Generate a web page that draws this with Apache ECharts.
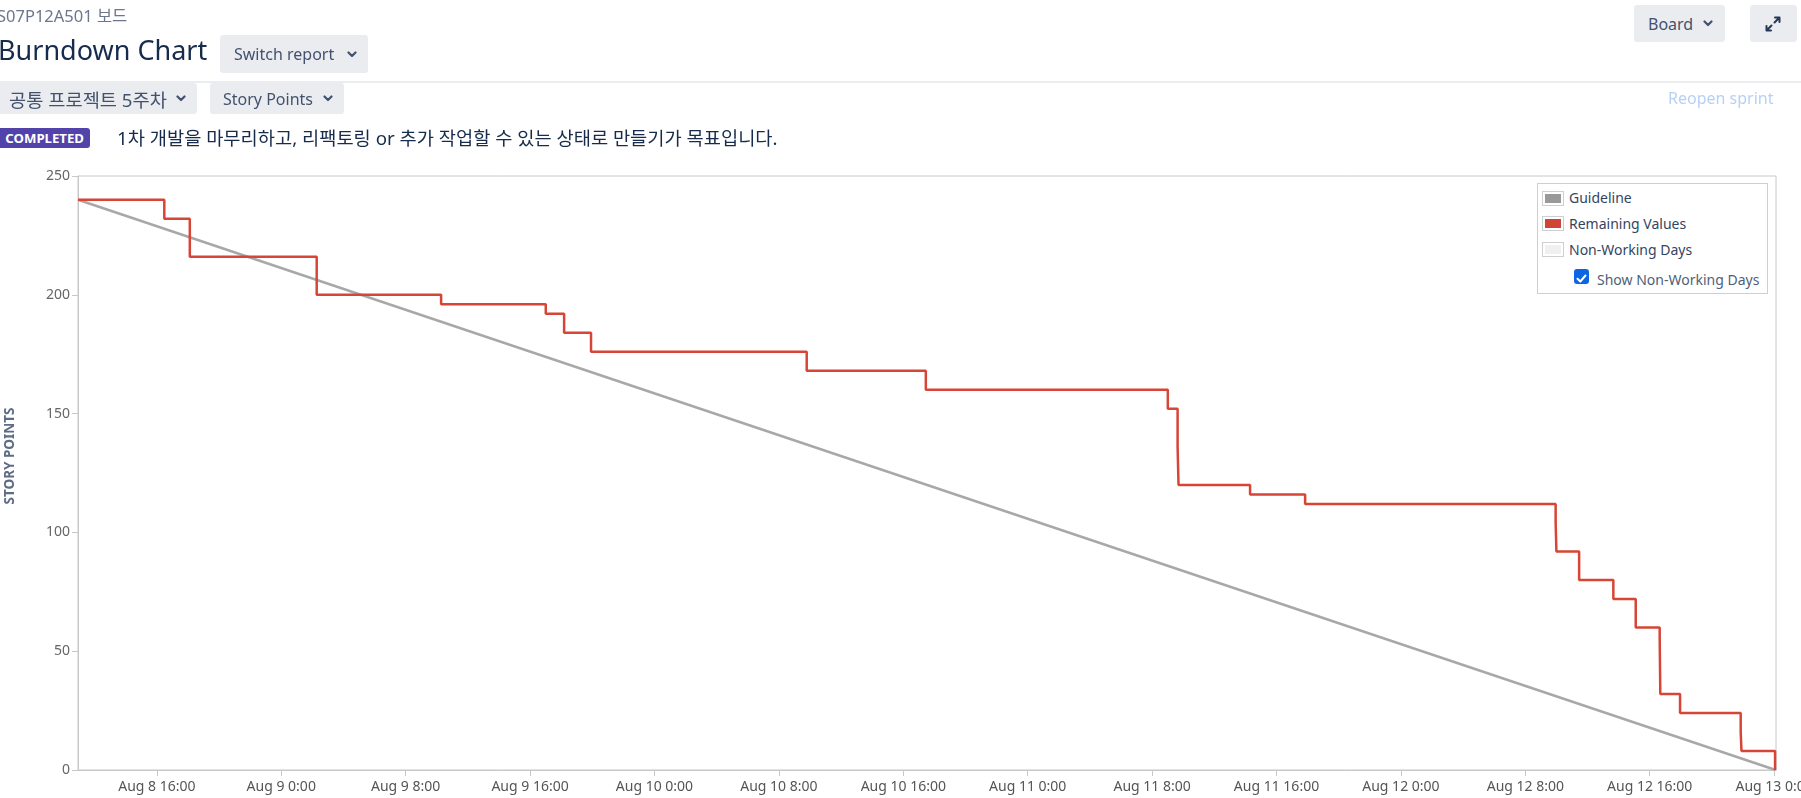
<!DOCTYPE html>
<html>
<head>
<meta charset="utf-8">
<script src="https://cdn.jsdelivr.net/npm/echarts@6/dist/echarts.min.js"></script>
<style>
  html, body { margin:0; padding:0; background:#fff; }
  body { width:1801px; height:798px; overflow:hidden; position:relative; font-family:"Noto Sans","Noto Sans CJK KR",sans-serif; }
  #chart { position:absolute; left:0; top:0; width:1801px; height:798px; }
  .abs { position:absolute; white-space:nowrap; }
  .btn { position:absolute; background:#ebecf0; border-radius:3px; color:#42526e; font-size:16px; display:flex; align-items:center; box-sizing:border-box; }
  .chev { position:absolute; }
  .legend { position:absolute; left:1537px; top:183px; width:231px; height:111px; border:1px solid #cfcfcf; background:#fff; box-sizing:border-box; }
  .sw { position:absolute; width:22px; height:15px; border:1px solid #cfcfcf; box-sizing:border-box; padding:2px; }
  .sw div { width:100%; height:100%; }
  .lt { position:absolute; font-size:14px; color:#344563; line-height:20px; }
</style>
</head>
<body>
<div id="chart"></div>

<div class="abs" style="left:-3px;top:6px;font-size:16.5px;line-height:20px;color:#6b778c;">S07P12A501 보드</div>
<div class="abs" style="left:-2px;top:32px;font-size:27px;line-height:36px;color:#172b4d;">Burndown Chart</div>

<div class="btn" style="left:220px;top:35px;width:148px;height:38px;">
  <span class="abs" style="left:14px;">Switch report</span>
  <svg class="chev" style="left:127px;top:16px" width="10" height="7" viewBox="0 0 10 7"><path d="M1.5 1.5 L5 5 L8.5 1.5" stroke="#42526e" stroke-width="2.2" fill="none" stroke-linecap="round" stroke-linejoin="round"/></svg>
</div>

<div class="btn" style="left:1634px;top:5px;width:91px;height:37px;">
  <span class="abs" style="left:14px;">Board</span>
  <svg class="chev" style="left:69px;top:15px" width="10" height="7" viewBox="0 0 10 7"><path d="M1.5 1.5 L5 5 L8.5 1.5" stroke="#42526e" stroke-width="2.2" fill="none" stroke-linecap="round" stroke-linejoin="round"/></svg>
</div>
<div class="btn" style="left:1750px;top:5px;width:47px;height:37px;">
  <svg class="abs" style="left:14px;top:10px" width="18" height="18" viewBox="0 0 18 18">
    <path d="M10.5 7.5 L15.5 2.5 M11 2.5 L15.5 2.5 L15.5 7" stroke="#253858" stroke-width="2" fill="none" stroke-linecap="round" stroke-linejoin="round"/>
    <path d="M7.5 10.5 L2.5 15.5 M2.5 11 L2.5 15.5 L7 15.5" stroke="#253858" stroke-width="2" fill="none" stroke-linecap="round" stroke-linejoin="round"/>
  </svg>
</div>

<div class="abs" style="left:0;top:81px;width:1801px;height:2px;background:#ebecf0;"></div>

<div class="btn" style="left:-4px;top:83px;width:201px;height:31px;font-size:18.7px;">
  <span class="abs" style="left:13px;">공통 프로젝트 5주차</span>
  <svg class="chev" style="left:180px;top:12px" width="10" height="7" viewBox="0 0 10 7"><path d="M1.5 1.5 L5 5 L8.5 1.5" stroke="#42526e" stroke-width="2.2" fill="none" stroke-linecap="round" stroke-linejoin="round"/></svg>
</div>
<div class="btn" style="left:210px;top:83px;width:134px;height:31px;">
  <span class="abs" style="left:13px;">Story Points</span>
  <svg class="chev" style="left:113px;top:12px" width="10" height="7" viewBox="0 0 10 7"><path d="M1.5 1.5 L5 5 L8.5 1.5" stroke="#42526e" stroke-width="2.2" fill="none" stroke-linecap="round" stroke-linejoin="round"/></svg>
</div>

<div class="abs" style="left:1668px;top:87px;font-size:16px;line-height:22px;color:#b8d0f5;">Reopen sprint</div>

<div class="abs" style="left:-4px;top:128px;width:94px;height:20px;background:#5243aa;border-radius:3px;color:#fff;font-weight:700;font-size:13.2px;line-height:20px;text-align:right;box-sizing:border-box;padding-right:6px;">COMPLETED</div>
<div class="abs" style="left:117px;top:126px;font-size:18.7px;line-height:24px;color:#172b4d;">1차 개발을 마무리하고, 리팩토링 or 추가 작업할 수 있는 상태로 만들기가 목표입니다.</div>

<div class="legend">
  <div class="sw" style="left:4px;top:7px;"><div style="background:#999999"></div></div>
  <div class="lt" style="left:31px;top:4px;">Guideline</div>
  <div class="sw" style="left:4px;top:32px;"><div style="background:#d04437"></div></div>
  <div class="lt" style="left:31px;top:30px;">Remaining Values</div>
  <div class="sw" style="left:4px;top:58px;"><div style="background:#f0f0f0"></div></div>
  <div class="lt" style="left:31px;top:56px;">Non-Working Days</div>
  <div class="abs" style="left:36px;top:85px;width:15px;height:15px;border-radius:3px;background:#0c66e4;">
    <svg width="15" height="15" viewBox="0 0 15 15"><path d="M3.5 7.8 L6.3 10.5 L11.5 4.5" stroke="#fff" stroke-width="2" fill="none" stroke-linecap="round" stroke-linejoin="round"/></svg>
  </div>
  <div class="lt" style="left:59px;top:86px;color:#505f79;">Show Non-Working Days</div>
</div>

<script>
// Hours measured from Aug 8 00:00
const xTickHours = [16, 24, 32, 40, 48, 56, 64, 72, 80, 88, 96, 104, 112, 120];
const xTickLabels = ["Aug 8 16:00", "Aug 9 0:00", "Aug 9 8:00", "Aug 9 16:00", "Aug 10 0:00", "Aug 10 8:00", "Aug 10 16:00",
                     "Aug 11 0:00", "Aug 11 8:00", "Aug 11 16:00", "Aug 12 0:00", "Aug 12 8:00", "Aug 12 16:00", "Aug 13 0:00"];
const yTickValues = [0, 50, 100, 150, 200, 250];

const axisStartHour = 10.93;
const axisEndHour = 120.12;

const guideHours = [10.93, 120.1];
const guideValues = [240, 0];

const remainingHours = [10.93, 16.48, 18.12, 26.28, 34.28, 41.01, 42.19, 43.92, 57.79, 65.45, 81.01, 81.64, 81.70,
                        86.30, 89.84, 105.95, 106.00, 107.46, 109.66, 111.10, 112.64, 112.68, 113.95, 117.85, 117.90, 120.06];
const remainingValues = [240, 232, 216, 200, 196, 192, 184, 176, 168, 160, 152, 136, 120,
                         116, 112, 104, 92, 80, 72, 60, 56, 32, 24, 16, 8, 0];

const chart = echarts.init(document.getElementById('chart'), null, { renderer: 'canvas' });
const axisColor = '#c8c8c8';
chart.setOption({
  animation: false,
  grid: { left: 78, right: 25, top: 176, bottom: 28, show: true, borderColor: axisColor, borderWidth: 1,
          containLabel: false, outerBoundsMode: 'none' },
  xAxis: {
    type: 'value', min: axisStartHour, max: axisEndHour,
    splitLine: { show: false },
    axisLine: { show: true, onZero: false, lineStyle: { color: axisColor } },
    axisTick: { show: true, length: 6, lineStyle: { color: axisColor }, customValues: xTickHours },
    axisLabel: {
      customValues: xTickHours, color: '#555', fontSize: 14, fontFamily: 'Noto Sans', margin: 10,
      hideOverlap: false,
      formatter: function (v) { const i = xTickHours.indexOf(Math.round(v)); return i >= 0 ? xTickLabels[i] : ''; }
    }
  },
  yAxis: {
    type: 'value', min: yTickValues[0], max: yTickValues[yTickValues.length - 1], interval: 50,
    splitLine: { show: false },
    axisLine: { show: true, lineStyle: { color: axisColor } },
    axisTick: { show: true, length: 6, lineStyle: { color: axisColor } },
    axisLabel: { color: '#666', fontSize: 14, fontFamily: 'Noto Sans', margin: 8 }
  },
  graphic: [{
    type: 'text', x: 10, y: 456, rotation: Math.PI / 2,
    style: { text: 'STORY POINTS', fill: '#5e6c84', font: 'bold 13.5px "Noto Sans"', align: 'center', verticalAlign: 'middle' }
  }],
  series: [
    {
      name: 'Guideline', type: 'line', symbol: 'none', z: 2,
      data: guideHours.map((h, i) => [h, guideValues[i]]),
      lineStyle: { color: '#a8a8a8', width: 2.5 }
    },
    {
      name: 'Remaining Values', type: 'line', symbol: 'none', step: 'end', z: 3,
      data: remainingHours.map((h, i) => [h, remainingValues[i]]),
      lineStyle: { color: '#d64535', width: 2.5 }
    }
  ]
});
</script>
</body>
</html>
